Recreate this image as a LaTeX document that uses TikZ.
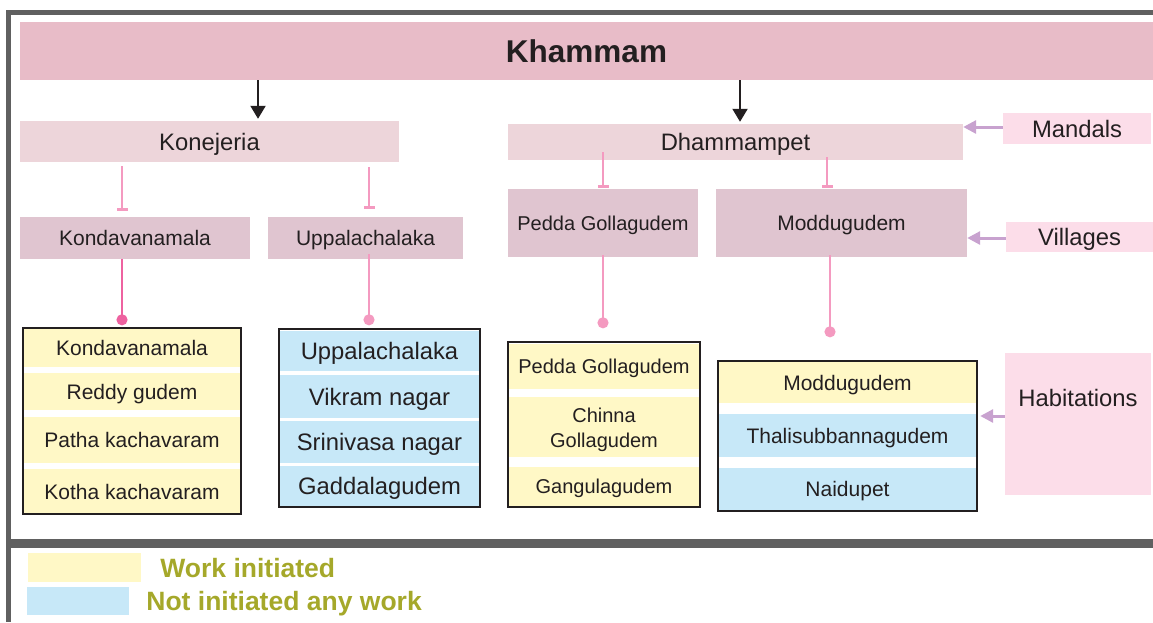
\documentclass[tikz,border=0pt]{standalone}
\usepackage{fontspec}
\setmainfont{Liberation Sans}
\usetikzlibrary{positioning,arrows.meta}

\definecolor{txt}{HTML}{231F20}
\definecolor{bannerfill}{HTML}{E8BCC8}
\definecolor{mandalfill}{HTML}{EDD5DA}
\definecolor{villagefill}{HTML}{E0C5D0}
\definecolor{tagfill}{HTML}{FCDDE9}
\definecolor{yfill}{HTML}{FFF8C6}
\definecolor{bfill}{HTML}{C7E8F8}
\definecolor{framegray}{HTML}{606060}
\definecolor{lilac}{HTML}{C8A2CF}
\definecolor{pinkline}{HTML}{F49AC0}
\definecolor{pinkdark}{HTML}{EE62A0}
\definecolor{olive}{HTML}{A5A82A}

\newcommand{\fsz}[2]{\fontsize{#1}{#2}\selectfont}

\begin{document}
\begin{tikzpicture}[
    x=1pt, y=-1pt,
    every node/.style={inner sep=0pt, text=txt},
    lbl/.style={text depth=0pt},
    banner/.style={lbl, fill=bannerfill, minimum width=1133pt, minimum height=58pt, font=\fsz{31.5}{36}\bfseries},
    mandal/.style={lbl, fill=mandalfill, font=\fsz{23.8}{28}},
    village/.style={lbl, fill=villagefill, font=\fsz{21}{25}},
    tag/.style={lbl, fill=tagfill, font=\fsz{23.8}{28}},
    yrow/.style={lbl, fill=yfill},
    brow/.style={lbl, fill=bfill},
    hframe/.style={draw=txt, line width=2.5pt},
    down/.style={-{Triangle[width=15pt,length=13pt]}, line width=2pt, draw=txt},
    point/.style={-{Triangle[width=13pt,length=13pt]}, line width=3pt, draw=lilac},
    tee/.style={-{Bar[width=11pt]}, line width=2.5pt, draw=pinkline},
    dot/.style={-{Circle[length=11pt]}, line width=2.5pt, draw=pinkline},
    legend/.style={lbl, font=\fsz{26.5}{30}\bfseries, text=olive},
]
\useasboundingbox (0,0) rectangle (1153,622);

% frame
\draw[framegray, line width=5pt] (1153,12) -- (8.5,12) -- (8.5,622);
\draw[framegray, line width=9pt] (6,543) -- (1153,543);

% district and mandals
\node[banner] (khammam) at (586.5,51) {Khammam};
\node[mandal, minimum width=379pt, minimum height=41pt] (konejeria) at (209.5,141.5) {Konejeria};
\node[mandal, minimum width=455pt, minimum height=36pt] (dhammampet) at (735.5,142) {Dhammampet};

% villages
\node[village, minimum width=230pt, minimum height=42pt] (kondav) at (135,238) {Kondavanamala};
\node[village, minimum width=195pt, minimum height=42pt] (uppal) at (365.5,238) {Uppalachalaka};
\node[village, minimum width=190pt, minimum height=68pt, font=\fsz{20}{24}] (pedda) at (603,223) {Pedda Gollagudem};
\node[village, minimum width=251pt, minimum height=68pt] (moddu) at (841.5,223) {Moddugudem};

% tags on the right
\node[tag, minimum width=148pt, minimum height=31pt] (mandals) at (1077,128.5) {Mandals};
\node[tag, minimum width=147pt, minimum height=30pt] (villages) at (1079.5,237) {Villages};
\node[tag, minimum width=146pt, minimum height=142pt, text depth=52pt] (habit) at (1078,424) {Habitations};

% habitations of Kondavanamala
\begin{scope}[every node/.append style={minimum width=218pt, font=\fsz{21}{25}}]
\node[yrow, minimum height=39pt] (k1) at (132,347.5) {Kondavanamala};
\node[yrow, minimum height=37pt] (k2) at (132,391.5) {Reddy gudem};
\node[yrow, minimum height=46pt] (k3) at (132,440) {Patha kachavaram};
\node[yrow, minimum height=45pt] (k4) at (132,491.5) {Kotha kachavaram};
\end{scope}
\draw[hframe] (k1.north west) rectangle (k4.south east);

% habitations of Uppalachalaka
\begin{scope}[every node/.append style={minimum width=201pt, font=\fsz{23.8}{28}}]
\node[brow, minimum height=40pt] (u1) at (379.5,351) {Uppalachalaka};
\node[brow, minimum height=43pt] (u2) at (379.5,396.5) {Vikram nagar};
\node[brow, minimum height=42pt] (u3) at (379.5,442) {Srinivasa nagar};
\node[brow, minimum height=40pt] (u4) at (379.5,486) {Gaddalagudem};
\end{scope}
\draw[hframe] ([yshift=2pt]u1.north west) rectangle ([yshift=-1pt]u4.south east);

% habitations of Pedda Gollagudem
\begin{scope}[every node/.append style={minimum width=192pt, font=\fsz{20}{25}}]
\node[yrow, minimum height=45pt] (p1) at (604,366.5) {Pedda Gollagudem};
\fill[yfill] (508,397) rectangle (700,457);
\node[align=center] (p2) at (604,430) {Chinna\\Gollagudem};
\node[yrow, minimum height=39pt] (p3) at (604,486.5) {Gangulagudem};
\end{scope}
\draw[hframe] ([yshift=2pt]p1.north west) rectangle ([yshift=-1pt]p3.south east);

% habitations of Moddugudem
\begin{scope}[every node/.append style={minimum width=259pt, font=\fsz{21}{25}}]
\node[yrow, minimum height=41pt] (m1) at (847.5,382.5) {Moddugudem};
\node[brow, minimum height=43pt] (m2) at (847.5,435.5) {Thalisubbannagudem};
\node[brow, minimum height=42pt] (m3) at (847.5,489) {Naidupet};
\end{scope}
\draw[hframe] ([yshift=1pt]m1.north west) rectangle ([yshift=-1pt]m3.south east);

% connectors
\coordinate (ka) at (258,0);
\coordinate (kb) at (740,0);
\coordinate (ca) at (122,0);
\coordinate (cb) at (369,0);
\coordinate (cc) at (603,0);
\coordinate (cd) at (827,0);
\coordinate (ce) at (830,0);

\draw[down, shorten >=2pt] (ka |- khammam.south) -- (ka |- konejeria.north);
\draw[down, shorten >=2pt] (kb |- khammam.south) -- (kb |- dhammampet.north);

\draw[tee, shorten <=4pt, shorten >=6pt] (ca |- konejeria.south) -- (ca |- kondav.north);
\draw[tee, shorten <=5pt, shorten >=8pt] (cb |- konejeria.south) -- (cb |- uppal.north);
\draw[tee, shorten <=-8pt, shorten >=1pt] (cc |- dhammampet.south) -- (cc |- pedda.north);
\draw[tee, shorten <=-3pt, shorten >=1pt] (cd |- dhammampet.south) -- (cd |- moddu.north);

\draw[dot, draw=pinkdark, shorten >=2.5pt] (ca |- kondav.south) -- (ca |- k1.north);
\draw[dot, shorten <=-5pt, shorten >=5.5pt] (cb |- uppal.south) -- (cb |- u1.north);
\draw[dot, shorten <=-2pt, shorten >=15.5pt] (cc |- pedda.south) -- (cc |- p1.north);
\draw[dot, shorten <=-2pt, shorten >=24.5pt] (ce |- moddu.south) -- (ce |- m1.north);

\draw[point] ([yshift=1.5pt]mandals.west) -- ([yshift=1.5pt]mandals.west -| dhammampet.east);
\draw[point] ([yshift=-1pt]villages.west) -- ([yshift=-1pt]villages.west -| moddu.east);
\draw[point, shorten >=3pt] ([yshift=8pt]habit.west) -- ([yshift=8pt]habit.west -| m2.east);

% legend
\node[fill=yfill, minimum width=113pt, minimum height=29pt] (lgy) at (84.5,567.5) {};
\node[fill=bfill, minimum width=102pt, minimum height=28pt] (lgb) at (78,601) {};
\node[legend, right=19pt of lgy] (lgytext) {Work initiated};
\node[legend, right=17pt of lgb] (lgbtext) {Not initiated any work};
\end{tikzpicture}
\end{document}
